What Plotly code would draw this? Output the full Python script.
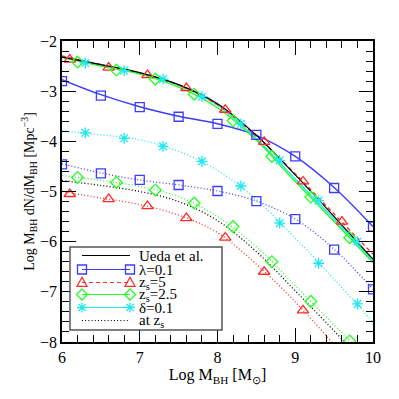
import plotly.graph_objects as go

# Common grid for curves (log M_BH)
x_grid = [6, 6.5, 7, 7.5, 8, 8.5, 9, 9.5, 10]

# Solid curves (today)
ueda = [-2.32, -2.47, -2.63, -2.87, -3.25, -3.88, -4.67, -5.50, -6.35]
lam_line = [-2.77, -3.07, -3.31, -3.50, -3.65, -3.88, -4.30, -4.92, -5.70]
zs5_line = [-2.30, -2.47, -2.64, -2.88, -3.27, -3.90, -4.65, -5.45, -6.25]
zs25_line = [-2.33, -2.50, -2.66, -2.92, -3.33, -3.98, -4.80, -5.60, -6.42]
delta_line = [-2.32, -2.47, -2.64, -2.88, -3.28, -3.95, -4.75, -5.55, -6.38]

# Dotted curves (at z_s)
ueda_zs = [-4.78, -4.88, -5.00, -5.20, -5.58, -6.20, -6.98, -7.78, -8.60]
lam_zs_line = [-4.45, -4.63, -4.77, -4.87, -4.99, -5.19, -5.55, -6.15, -6.95]
zs5_zs_line = [-5.00, -5.13, -5.26, -5.47, -5.82, -6.45, -7.20, -8.05, -8.90]
zs25_zs_line = [-4.68, -4.78, -4.90, -5.10, -5.50, -6.10, -6.88, -7.66, -8.45]
delta_zs_line = [-3.79, -3.87, -3.97, -4.20, -4.58, -5.16, -5.93, -6.75, -7.60]

# Marker positions
lam_mx = [6, 6.5, 7, 7.5, 8, 8.5, 9, 9.5, 10]
lam_my = [-2.80, -3.09, -3.32, -3.51, -3.65, -3.87, -4.30, -4.93, -5.70]
lam_zs_my = [-4.46, -4.64, -4.77, -4.87, -4.99, -5.19, -5.55, -6.16, -6.95]

zs5_mx = [6.1, 6.6, 7.1, 7.6, 8.1, 8.6, 9.1, 9.6]
zs5_my = [-2.37, -2.53, -2.68, -2.94, -3.37, -4.01, -4.80, -5.60]
zs5_zs_my = [-5.05, -5.15, -5.29, -5.53, -5.92, -6.60, -7.37, -8.20]

zs25_mx = [6.2, 6.7, 7.2, 7.7, 8.2, 8.7, 9.2, 9.7]
zs25_my = [-2.42, -2.58, -2.76, -3.06, -3.59, -4.30, -5.11, -5.92]
zs25_zs_my = [-4.72, -4.82, -4.97, -5.23, -5.70, -6.40, -7.19, -7.98]

delta_mx = [6.3, 6.8, 7.3, 7.8, 8.3, 8.8, 9.3, 9.8]
delta_my = [-2.44, -2.59, -2.76, -3.11, -3.65, -4.38, -5.18, -6.00]
delta_zs_my = [-3.83, -3.94, -4.10, -4.40, -4.89, -5.63, -6.43, -7.24]

# Legend labels
legend_labels = ["Ueda et al.", "λ=0.1", "z<sub>s</sub>=5", "z<sub>s</sub>=2.5",
                 "δ=0.1", "at z<sub>s</sub>"]

BLUE = "#3c3cff"
RED = "#ff2a2a"
GREEN = "#22ff22"
CYAN = "#1ee8f0"
BLACK = "#000000"
FONT = "Liberation Serif"
DOT = "1px,2.2px"
DASH = "4px,3px"

fig = go.Figure()


def line(y, color, dash, width=1.4):
    fig.add_trace(go.Scatter(x=x_grid, y=y, mode="lines", showlegend=False,
                             line=dict(color=color, dash=dash, width=width, shape="spline"),
                             hoverinfo="skip"))


def marks(x, y, color, symbol, size=9):
    fig.add_trace(go.Scatter(x=x, y=y, mode="markers", showlegend=False,
                             marker=dict(color=color, symbol=symbol, size=size,
                                         line=dict(color=color, width=1.3)),
                             hoverinfo="skip"))


# dotted (at z_s)
line(ueda_zs, BLACK, DOT, 1.3)
line(zs5_zs_line, RED, DOT, 1.3)
line(zs25_zs_line, GREEN, DOT, 1.3)
line(lam_zs_line, BLUE, DOT, 1.3)
line(delta_zs_line, CYAN, DOT, 1.3)
marks(zs5_mx, zs5_zs_my, RED, "triangle-up-open", 10)
marks(zs25_mx, zs25_zs_my, GREEN, "diamond-open", 9)
marks(lam_mx, lam_zs_my, BLUE, "square-open", 9)
marks(delta_mx, delta_zs_my, CYAN, "asterisk-open", 9)

# solid
line(lam_line, BLUE, "solid")
line(delta_line, CYAN, "solid")
line(zs5_line, RED, DASH)
line(zs25_line, GREEN, "solid")
line(ueda, BLACK, "solid", 1.2)
marks(lam_mx, lam_my, BLUE, "square-open", 9)
marks(zs5_mx, zs5_my, RED, "triangle-up-open", 10)
marks(zs25_mx, zs25_my, GREEN, "diamond-open", 9)
marks(delta_mx, delta_my, CYAN, "asterisk-open", 9)

# ---- page layout: the HTML body adds an 8px offset, so the figure is 391px ----
OFF = 8
W = H = 399 - OFF
ML, MR, MT, MB = 62 - OFF, 26, 41 - OFF, 57

# ---- legend drawn as layout decoration (box, key lines, key symbols, text) ----
PX0, PW, PY0, PH = 62, 311, 342, 301  # plot area in window pixels


def px(xp):
    return (xp - PX0) / PW


def py(yp):
    return (PY0 - yp) / PH


SYM_PATH = {
    "square": "M-4.5,-4.5L4.5,-4.5L4.5,4.5L-4.5,4.5Z",
    "triangle": "M0,5.2L5,-3.8L-5,-3.8Z",
    "diamond": "M0,5.5L5.5,0L0,-5.5L-5.5,0Z",
    "asterisk": "M-5,0L5,0M0,-5L0,5M-3.6,-3.6L3.6,3.6M-3.6,3.6L3.6,-3.6",
}
legend_style = [
    (BLACK, "solid", None),
    (BLUE, "solid", "square"),
    (RED, DASH, "triangle"),
    (GREEN, "solid", "diamond"),
    (CYAN, "solid", "asterisk"),
    (BLACK, DOT, None),
]
row_y = [255.5, 269.5, 282.5, 294.5, 307.5, 320.5]
key_x0, key_x1, text_x = 82, 130, 137

shapes = [dict(type="rect", xref="paper", yref="paper",
               x0=px(70), x1=px(222), y0=py(330), y1=py(247),
               line=dict(color="#555555", width=1.5), fillcolor="white", layer="above")]
annotations = []
for label, (color, dash, sym), ry in zip(legend_labels, legend_style, row_y):
    shapes.append(dict(type="line", xref="paper", yref="paper",
                       x0=px(key_x0), x1=px(key_x1), y0=py(ry), y1=py(ry),
                       line=dict(color=color, width=1.2, dash=dash), layer="above"))
    if sym:
        for kx in (key_x0, key_x1):
            shapes.append(dict(type="path", xref="paper", yref="paper",
                               xsizemode="pixel", ysizemode="pixel",
                               xanchor=px(kx), yanchor=py(ry), path=SYM_PATH[sym],
                               line=dict(color=color, width=1.3),
                               fillcolor="rgba(0,0,0,0)", layer="above"))
    annotations.append(dict(xref="paper", yref="paper", x=px(text_x), y=py(ry),
                            xanchor="left", yanchor="middle", showarrow=False,
                            text=label, font=dict(family=FONT, size=15, color="black")))

axis_common = dict(
    showline=True, linecolor="black", linewidth=1.5, mirror="allticks",
    ticks="inside", ticklen=14, tickwidth=1.2, tickcolor="black",
    showgrid=False, zeroline=False,
    tickfont=dict(family=FONT, size=16, color="black"),
)

fig.update_layout(
    width=W, height=H,
    margin=dict(l=ML, r=MR, t=MT, b=MB),
    paper_bgcolor="white", plot_bgcolor="white",
    font=dict(family=FONT, color="black"),
    showlegend=False,
    shapes=shapes,
    annotations=annotations,
    xaxis=dict(range=[6, 10], dtick=1, tick0=6,
               minor=dict(dtick=0.2, ticklen=7, ticks="inside", tickcolor="black", tickwidth=1.2),
               title=dict(text="Log M<sub>BH</sub> [M<sub>⊙</sub>]", font=dict(family=FONT, size=16), standoff=4),
               **axis_common),
    yaxis=dict(range=[-8, -2], dtick=1, tick0=-8,
               minor=dict(dtick=0.2, ticklen=7, ticks="inside", tickcolor="black", tickwidth=1.2),
               title=dict(text="Log M<sub>BH</sub> dN/dM<sub>BH</sub> [Mpc<sup>−3</sup>]", font=dict(family=FONT, size=14), standoff=2),
               **axis_common),
)

fig.write_html("out.html", config={"displayModeBar": False})
